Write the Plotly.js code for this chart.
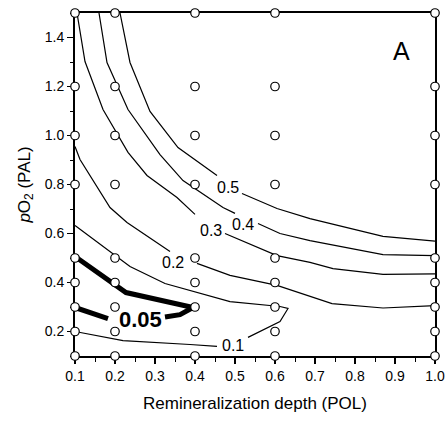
<!DOCTYPE html>
<html>
<head>
<meta charset="utf-8">
<script src="https://cdn.plot.ly/plotly-3.0.1.min.js"></script>
<style>html,body{margin:0;padding:0;background:#fff;}#chart{width:448px;height:421px;}</style>
</head>
<body>
<div id="chart"></div>
<script>
// Sample grid (open circles)
const gridX = [0.1, 0.2, 0.4, 0.6, 1.0];
const gridY = [0.1, 0.2, 0.3, 0.4, 0.5, 0.8, 1.0, 1.2, 1.5];

// Contour lines (null = gap for the inline label)
const c050X = [0.2125, 0.2375, 0.2875, 0.3575, 0.455, null, 0.5175, 0.605, 0.6875, 0.87, 1.0];
const c050Y = [1.5, 1.298, 1.098, 0.951, 0.837, null, 0.763, 0.702, 0.661, 0.588, 0.569];

const c040X = [0.16, 0.18, 0.2325, 0.3125, 0.37, 0.47, 0.5, null, 0.5575, 0.6125, 0.6875, 0.87, 1.0];
const c040Y = [1.5, 1.298, 1.106, 0.922, 0.816, 0.706, 0.682, null, 0.641, 0.6, 0.571, 0.514, 0.510];

const c030X = [0.105, 0.125, 0.17, 0.2325, 0.28, 0.355, 0.4, null, 0.475, 0.605, 0.6875, 0.745, 0.87, 1.0];
const c030Y = [1.5, 1.302, 1.106, 0.931, 0.837, 0.747, 0.678, null, 0.6, 0.51, 0.482, 0.457, 0.433, 0.435];

const c020X = [0.1, 0.1125, 0.1875, 0.23, 0.3375, null, 0.405, 0.4875, 0.605, 0.7425, 0.87, 1.0];
const c020Y = [0.955, 0.902, 0.706, 0.645, 0.527, null, 0.478, 0.429, 0.388, 0.314, 0.296, 0.306];

const c010X = [0.1, 0.1925, 0.2375, 0.325, 0.4, 0.4875, 0.6125, 0.6325, 0.6125, 0.5325, null, 0.455, 0.3875, 0.22, 0.1];
const c010Y = [0.633, 0.522, 0.465, 0.396, 0.363, 0.322, 0.302, 0.294, 0.241, 0.176, null, 0.139, 0.147, 0.163, 0.2];

const c005X = [0.1, 0.195, 0.2275, 0.395, 0.3625, 0.325, null, 0.1825, 0.1];
const c005Y = [0.506, 0.396, 0.359, 0.298, 0.269, 0.259, null, 0.253, 0.298];

// Inline contour labels
const labelText = ['0.5', '0.4', '0.3', '0.2', '0.1', '0.05'];
const labelX = [0.4825, 0.52, 0.44, 0.345, 0.495, 0.2625];
const labelY = [0.788, 0.637, 0.612, 0.482, 0.143, 0.249];

const FONT = "'Liberation Sans', Arial, sans-serif";

const thin = {color: '#000', width: 1.2};
const traces = [
  {x: c050X, y: c050Y, mode: 'lines', line: thin, connectgaps: false, hoverinfo: 'skip'},
  {x: c040X, y: c040Y, mode: 'lines', line: thin, connectgaps: false, hoverinfo: 'skip'},
  {x: c030X, y: c030Y, mode: 'lines', line: thin, connectgaps: false, hoverinfo: 'skip'},
  {x: c020X, y: c020Y, mode: 'lines', line: thin, connectgaps: false, hoverinfo: 'skip'},
  {x: c010X, y: c010Y, mode: 'lines', line: thin, connectgaps: false, hoverinfo: 'skip'},
  {x: c005X, y: c005Y, mode: 'lines', line: {color: '#000', width: 5}, connectgaps: false, hoverinfo: 'skip'}
];

const mx = [], my = [];
gridX.forEach(gx => gridY.forEach(gy => { mx.push(gx); my.push(gy); }));
traces.push({
  x: mx, y: my, mode: 'markers', cliponaxis: false,
  marker: {symbol: 'circle', size: 8.5, color: '#fff', line: {color: '#000', width: 1.2}},
  hoverinfo: 'skip'
});

const annotations = labelText.map((t, i) => ({
  x: labelX[i], y: labelY[i], xref: 'x', yref: 'y',
  text: t === '0.05' ? '<b>' + t + '</b>' : t, showarrow: false,
  font: {family: FONT, size: t === '0.05' ? 22 : 16, color: '#000'}
}));
annotations.push({
  x: 0.936, y: 0.937, xref: 'paper', yref: 'paper', text: 'A', showarrow: false,
  font: {family: FONT, size: 25, color: '#000'}
});

const axisCommon = {
  showline: true, linewidth: 2, linecolor: '#000', mirror: true,
  showgrid: false, zeroline: false, ticks: 'outside', ticklen: 6, tickwidth: 1.5, tickcolor: '#000',
  tickformat: '.1f', layer: 'below traces',
  tickfont: {family: FONT, size: 14, color: '#000'}
};

const layout = {
  width: 448, height: 421,
  margin: {l: 75, r: 13, t: 13, b: 65},
  paper_bgcolor: '#fff', plot_bgcolor: '#fff',
  showlegend: false,
  font: {family: FONT, color: '#000'},
  xaxis: Object.assign({}, axisCommon, {
    range: [0.1, 1.0], tick0: 0.1, dtick: 0.1,
    minor: {ticks: 'outside', ticklen: 3.5, tickwidth: 1, tickcolor: '#000', dtick: 0.05, tick0: 0.1, showgrid: false},
    title: {text: 'Remineralization depth (POL)', font: {family: FONT, size: 17, color: '#000'}, standoff: 14}
  }),
  yaxis: Object.assign({}, axisCommon, {
    range: [0.1, 1.5], tick0: 0, dtick: 0.2,
    minor: {ticks: 'outside', ticklen: 3.5, tickwidth: 1, tickcolor: '#000', dtick: 0.1, tick0: 0.1, showgrid: false},
    title: {text: '<i>p</i>O<sub>2</sub> (PAL)', font: {family: FONT, size: 17, color: '#000'}, standoff: 10}
  }),
  annotations: annotations
};

Plotly.newPlot('chart', traces, layout, {staticPlot: true, displayModeBar: false});
</script>
</body>
</html>
